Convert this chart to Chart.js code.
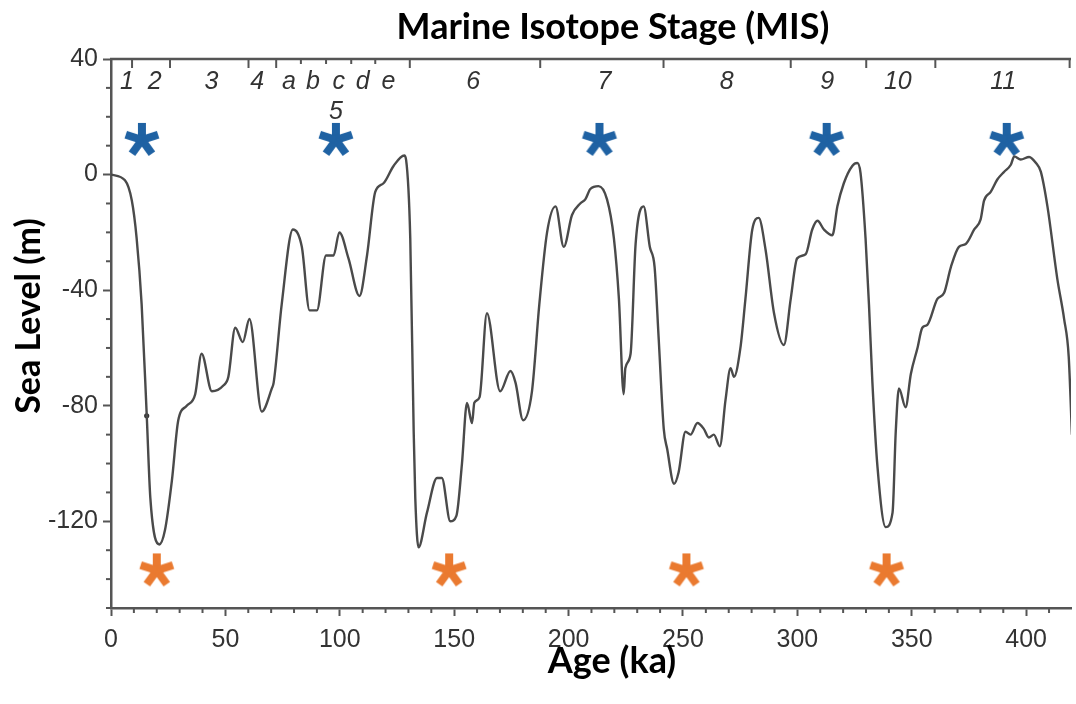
<!DOCTYPE html>
<html>
<head>
<meta charset="utf-8">
<title>Sea level and Marine Isotope Stages</title>
<script src="https://cdn.jsdelivr.net/npm/chart.js@4.4.0/dist/chart.umd.min.js"></script>
<style>
  body { margin: 0; background: #fff; }
</style>
</head>
<body>
<canvas id="seaLevelChart" width="1076" height="704"></canvas>
<script>
// Sea level curve (age in ka, level in m)
const ageKa = [
  0, 6.1, 9.1, 11.2, 13.4, 15.6, 17.2, 21.1, 23.6, 26.6, 29.4, 33.1, 36.8, 39.6, 44.1, 49.1, 51.3, 54.3, 57.6, 60.5,
  65.9, 70.3, 71.1, 74.6, 79.5, 83.4, 86.8, 90.0, 94.0, 97.3, 99.8, 103.8, 108.6, 111.9, 115.5, 119.1, 123.5, 128.2, 129.0, 130.8,
  132.3, 133.0, 134.4, 138.1, 142.5, 144.6, 148.3, 151.0, 153.4, 155.6, 157.8, 158.8, 161.1, 164.3, 170.1, 174.6, 176.8, 180.1, 184.0, 187.2,
  190.6, 194.3, 197.9, 201.5, 205.1, 207.3, 209.5, 213.1, 216.8, 219.8, 222.0, 224.1, 224.8, 227.1, 229.3, 232.8, 235.5, 237.6, 239.4, 241.6,
  243.1, 246.1, 248.1, 251.1, 253.3, 256.3, 259.1, 261.3, 263.5, 266.1, 268.6, 270.8, 272.3, 275.1, 277.3, 280.3, 283.1, 286.1, 289.8, 294.1,
  297.1, 299.9, 303.6, 306.5, 308.8, 311.6, 315.3, 317.5, 320.3, 324.0, 326.2, 327.6, 329.8, 331.3, 332.8, 335.0, 338.6, 341.6, 343.0, 344.4,
  347.3, 349.6, 352.5, 354.6, 356.8, 361.2, 364.1, 367.1, 370.6, 373.6, 377.3, 380.1, 381.6, 384.5, 387.4, 390.4, 393.3, 394.8, 397.6, 401.3,
  404.3, 406.4, 409.3, 413.6, 416.6, 418.6, 420.0
];
const seaLevel = [
  0, -2, -9, -22, -45, -83, -112, -128, -123, -106, -85, -80, -76, -62, -75, -73, -70, -53, -58, -50,
  -82, -74, -72, -45, -19, -25, -47, -47, -28, -28, -20, -29, -42, -28, -6, -3, 3, 6.6, 5, -22,
  -89, -112, -129, -117, -105, -105, -120, -118, -100, -79, -86, -79, -77, -48, -75, -68, -72, -85, -75, -45,
  -20, -11, -25, -14, -10, -8.6, -5, -4, -8.6, -22, -43, -76, -67, -62, -24, -11, -25, -32, -57, -88,
  -95, -107, -103, -89, -90, -86, -88, -91, -90, -94, -78, -67, -70, -60, -43, -19, -15, -26, -48, -59,
  -43, -29, -27.6, -19, -16, -19, -21, -11, -3, 3, 4, 0.6, -22, -45, -72, -101, -122, -117, -89, -74,
  -80.5, -69, -60, -53, -52, -43, -41, -32, -25, -24, -19, -15.5, -9, -6, -1.7, 1, 3.4, 6.3, 5.2, 6.1,
  4, 1, -11, -36, -50, -63, -90
];

// Interglacial highstands (blue) and glacial lowstands (orange)
const highstandAge = [13.5, 98.3, 213.5, 312.8, 391.5];
const highstandLevel = [12, 12, 12, 12, 12];
const lowstandAge = [20, 147.8, 251.5, 339];
const lowstandLevel = [-137, -137, -137, -137];

// MIS labels along the top, plus stage boundaries
const stageLabels = ['1', '2', '3', '4', 'a', 'b', 'c', 'd', 'e', '6', '7', '8', '9', '10', '11'];
const stageLabelAge = [7.0, 19.1, 43.9, 63.9, 77.8, 88.3, 99.6, 110, 121.3, 158.3, 215.7, 269.1, 313, 343.9, 390];
const stageBounds = [9.2, 25.8, 60.1, 72.2, 130.6, 187.6, 241.5, 297.1, 330.1, 360.3, 419];
const subStageBounds = [83, 94, 105, 115.5];

const ageTicks = [0, 50, 100, 150, 200, 250, 300, 350, 400];
const levelTicks = [40, 0, -40, -80, -120];

const axisColor = '#555';
const labelColor = '#333';
const tickFont = { family: 'Liberation Sans', size: 25 };

function asterisk(color) {
  const c = document.createElement('canvas');
  c.width = 40;
  c.height = 40;
  const g = c.getContext('2d');
  g.strokeStyle = color;
  g.lineWidth = 8;
  for (let i = 0; i < 5; i++) {
    const a = -Math.PI / 2 + i * 2 * Math.PI / 5;
    g.beginPath();
    g.moveTo(20, 20);
    g.lineTo(20 + 17 * Math.cos(a), 20 + 17 * Math.sin(a));
    g.stroke();
  }
  return c;
}

const stageAxis = {
  id: 'stageAxis',
  afterDraw(chart) {
    const { ctx, chartArea: area, scales: { x, y } } = chart;
    ctx.save();
    ctx.strokeStyle = axisColor;

    // top axis line with stage boundaries
    ctx.lineWidth = 2.5;
    ctx.beginPath();
    ctx.moveTo(area.left - 1, area.top);
    ctx.lineTo(area.right, area.top);
    ctx.stroke();
    ctx.lineWidth = 2;
    stageBounds.forEach(v => {
      const px = x.getPixelForValue(v);
      ctx.beginPath();
      ctx.moveTo(px, area.top);
      ctx.lineTo(px, area.top + 9);
      ctx.stroke();
    });
    subStageBounds.forEach(v => {
      const px = x.getPixelForValue(v);
      ctx.beginPath();
      ctx.moveTo(px, area.top);
      ctx.lineTo(px, area.top + 5);
      ctx.stroke();
    });

    // minor ticks
    for (let v = -150; v <= 40; v += 10) {
      if (levelTicks.includes(v)) continue;
      const py = y.getPixelForValue(v);
      ctx.beginPath();
      ctx.moveTo(area.left - 5, py);
      ctx.lineTo(area.left, py);
      ctx.stroke();
    }
    for (let v = 10; v <= 410; v += 10) {
      if (ageTicks.includes(v)) continue;
      const px = x.getPixelForValue(v);
      ctx.beginPath();
      ctx.moveTo(px, area.bottom);
      ctx.lineTo(px, area.bottom + 5);
      ctx.stroke();
    }

    // stage numbers
    ctx.fillStyle = labelColor;
    ctx.font = 'italic 25px "Liberation Sans"';
    ctx.textAlign = 'center';
    ctx.textBaseline = 'middle';
    stageLabels.forEach((t, i) => {
      ctx.fillText(t, x.getPixelForValue(stageLabelAge[i]), y.getPixelForValue(32));
    });
    ctx.fillText('5', x.getPixelForValue(98.3), y.getPixelForValue(21.5));

    // titles
    ctx.fillStyle = '#000';
    ctx.font = 'bold 36px Lato';
    ctx.fillText('Marine Isotope Stage (MIS)', 613, 27);
    ctx.fillText('Age (ka)', 612, 661);
    ctx.font = 'bold 34px Lato';
    ctx.translate(29, 316);
    ctx.rotate(-Math.PI / 2);
    ctx.fillText('Sea Level (m)', 0, 0);
    ctx.restore();
  }
};

const ctx = document.getElementById('seaLevelChart').getContext('2d');
new Chart(ctx, {
  type: 'scatter',
  data: {
    datasets: [
      {
        type: 'line',
        data: ageKa.map((a, i) => ({ x: a, y: seaLevel[i] })),
        borderColor: '#4a4a4a',
        borderWidth: 2.4,
        pointRadius: 0,
        cubicInterpolationMode: 'monotone',
        fill: false
      },
      {
        data: [{ x: 15.6, y: -83.5 }],
        pointRadius: 2.6,
        backgroundColor: '#333',
        borderWidth: 0
      },
      {
        data: highstandAge.map((a, i) => ({ x: a, y: highstandLevel[i] })),
        pointStyle: asterisk('#1f62a3')
      },
      {
        data: lowstandAge.map((a, i) => ({ x: a, y: lowstandLevel[i] })),
        pointStyle: asterisk('#ea7a30')
      }
    ]
  },
  options: {
    responsive: false,
    animation: false,
    layout: { padding: { top: 59, left: 0, right: 0, bottom: 0 } },
    plugins: {
      legend: { display: false },
      tooltip: { enabled: false }
    },
    scales: {
      x: {
        type: 'linear',
        min: 0,
        max: 419.6,
        afterBuildTicks: s => { s.ticks = ageTicks.map(v => ({ value: v })); },
        afterFit: s => { s.height = 96; },
        grid: { drawOnChartArea: false, tickLength: 8, tickColor: axisColor, tickWidth: 2 },
        border: { color: axisColor, width: 2.5 },
        ticks: { font: tickFont, color: labelColor, padding: 9, maxRotation: 0, autoSkip: false }
      },
      y: {
        min: -150,
        max: 40,
        afterBuildTicks: s => { s.ticks = levelTicks.map(v => ({ value: v })); },
        afterFit: s => { s.width = 111; },
        grid: { drawOnChartArea: false, tickLength: 8, tickColor: axisColor, tickWidth: 2 },
        border: { color: axisColor, width: 2.5 },
        ticks: { font: tickFont, color: labelColor, padding: 5 }
      }
    }
  },
  plugins: [stageAxis]
});
</script>
</body>
</html>
